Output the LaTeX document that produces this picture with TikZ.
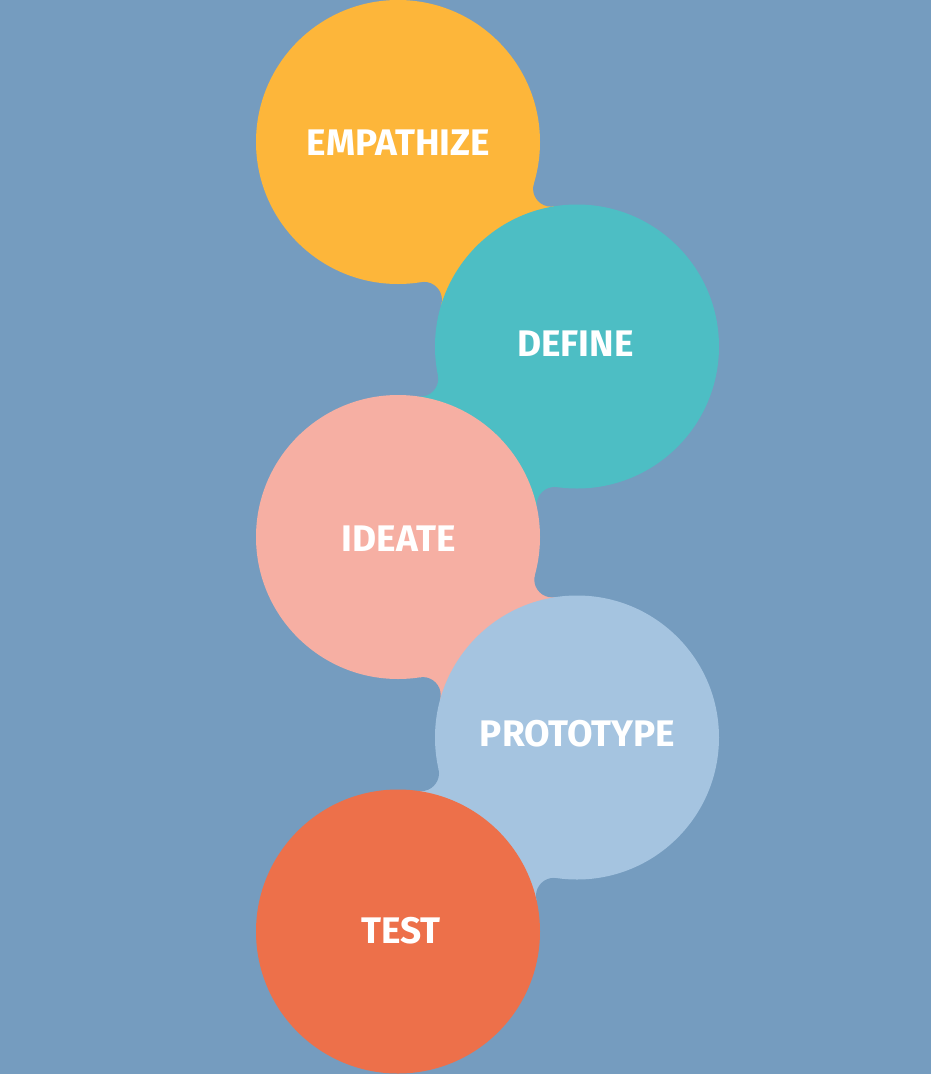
\documentclass[tikz,border=0pt]{standalone}
\usepackage{fontspec}
\setmainfont{Fira Sans}
\definecolor{bgc}{HTML}{759CBF}
\definecolor{cyel}{HTML}{FDB63A}
\definecolor{cteal}{HTML}{4DBEC4}
\definecolor{cpink}{HTML}{F6AFA3}
\definecolor{cblue}{HTML}{A5C4E0}
\definecolor{cred}{HTML}{ED704A}
\tikzset{
  lbl/.style={text=white, font=\fontsize{37}{37}\selectfont\bfseries, anchor=base, inner sep=0pt},
  bubble/.style={radius=142pt},
  fillet/.style={fill=bgc, radius=18pt}
}
\begin{document}
\begin{tikzpicture}[x=1pt,y=-1pt]
\fill[bgc] (0,0) rectangle (931,1074);
\useasboundingbox (0,0) rectangle (931,1074);
% connector quads
\fill[cyel]  (398,142) -- (551.06,188.61) -- (577,346.5) -- (423.94,299.89) -- cycle;
\fill[cteal] (577,346.5) -- (554.76,504.95) -- (398,537) -- (420.24,378.55) -- cycle;
\fill[cpink] (398,537) -- (552.27,579.42) -- (577,737.5) -- (422.73,695.08) -- cycle;
\fill[cblue] (577,737.5) -- (553.98,895.84) -- (398,931.5) -- (421.02,773.16) -- cycle;
% fillets
\fill[fillet] (551.06,188.61) circle[radius=18pt];
\fill[fillet] (423.94,299.89) circle[radius=18pt];
\fill[fillet] (420.24,378.55) circle[radius=18pt];
\fill[fillet] (554.76,504.95) circle[radius=18pt];
\fill[fillet] (552.27,579.42) circle[radius=18pt];
\fill[fillet] (422.73,695.08) circle[radius=18pt];
\fill[fillet] (421.02,773.16) circle[radius=18pt];
\fill[fillet] (553.98,895.84) circle[radius=18pt];
% circles
\fill[cyel]  (398,142) circle[bubble];
\fill[cteal] (577,346.5) circle[bubble];
\fill[cpink] (398,537) circle[bubble];
\fill[cblue] (577,737.5) circle[bubble];
\fill[cred]  (398,931.5) circle[bubble];
% labels
\node[lbl] (emp) at (398.5,155) {EMPATHIZE};
\node[lbl] (def) at (575.3,356.7) {DEFINE};
\node[lbl] (ide) at (398.7,551.7) {IDEATE};
\node[lbl] (pro) at (577.5,746) {PROTOTYPE};
\node[lbl] (tst) at (400.8,943.3) {TEST};
\end{tikzpicture}
\end{document}
